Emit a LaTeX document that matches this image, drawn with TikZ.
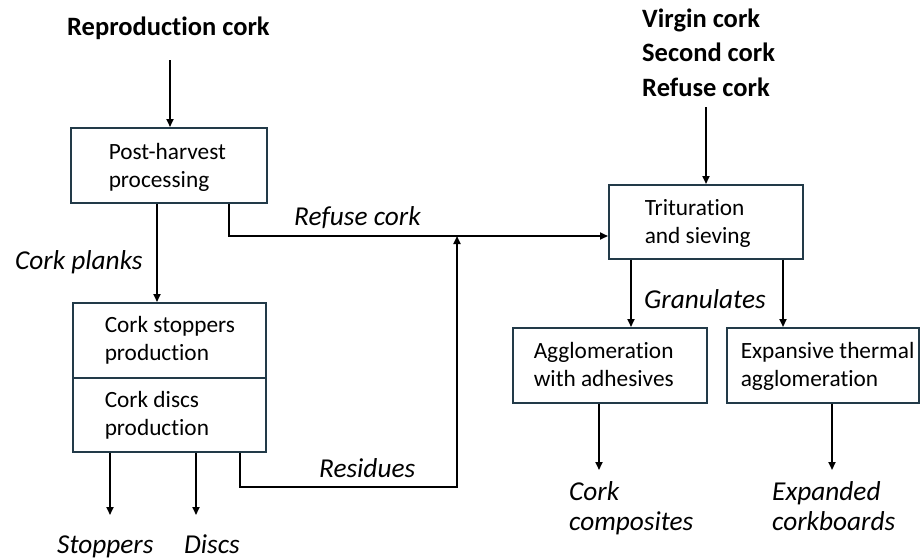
\documentclass[tikz,border=0pt]{standalone}
\usepackage{fontspec}
\setmainfont{Carlito}[Ligatures={NoCommon}]
\usetikzlibrary{arrows.meta,calc}
\definecolor{boxc}{RGB}{34,58,72}
\newcommand\boxtext[3]{\raisebox{#2}[\height][\depth]{\makebox[#1][l]{\begin{tabular}{@{}l@{}}#3\end{tabular}}}}
\begin{document}
\begin{tikzpicture}[x=1pt,y=-1pt,
  box/.style={draw=boxc, line width=1.5pt, rectangle, inner sep=0pt, anchor=north west, font=\fontsize{23.3}{28}\selectfont},
  arr/.style={line width=1.9pt, -{Triangle[length=8pt,width=7pt]}},
  lab/.style={inner sep=0pt, anchor=base west, font=\fontsize{27.3}{30}\selectfont\itshape},
  ttl/.style={inner sep=0pt, anchor=base west, font=\fontsize{26.5}{34.5}\selectfont\bfseries}]
\useasboundingbox (0,0) rectangle (921,558);

% boxes
\node[box, minimum width=196pt, minimum height=75pt] (ph) at (70,127) {\boxtext{120pt}{-3pt}{Post-harvest\\processing}};
\node[box, minimum width=193pt, minimum height=75pt] (cs) at (72,302) {\boxtext{129pt}{-0.5pt}{Cork stoppers\\production}};
\node[box, minimum width=193pt, minimum height=74pt] (cd) at (72,377) {\boxtext{129pt}{-1pt}{Cork discs\\production}};
\node[box, minimum width=194pt, minimum height=74pt] (tr) at (608,184) {\boxtext{122pt}{-2.5pt}{Trituration\\and sieving}};
\node[box, minimum width=194pt, minimum height=75pt] (ag) at (512,327) {\boxtext{152pt}{-2pt}{Agglomeration\\with adhesives}};
\node[box, minimum width=192pt, minimum height=75pt] (ex) at (726,327) {\boxtext{164pt}{-2pt}{Expansive thermal\\agglomeration}};

% titles and labels
\node[ttl] (rc) at (67,35) {Reproduction cork};
\node[ttl] (vc) at (642,27) {\begin{tabular}[t]{@{}l@{}}Virgin cork\\Second cork\\Refuse cork\end{tabular}};
\node[lab] (cpl) at (15,269) {Cork planks};
\node[lab] (rfl) at (294,225) {Refuse cork};
\node[lab] (grl) at (644,308) {Granulates};
\node[lab] (rsl) at (319,477) {Residues};
\node[lab] (stl) at (57,553) {Stoppers};
\node[lab] (dil) at (184,553) {Discs};
\node[lab] (ccl) at (569,500) {\begin{tabular}[t]{@{}l@{}}Cork\\composites\end{tabular}};
\node[lab] (ecl) at (772,500) {\begin{tabular}[t]{@{}l@{}}Expanded\\corkboards\end{tabular}};

% helper coordinates
\coordinate (xRc) at (170,60);
\coordinate (xPl) at (157,0);
\coordinate (xRf) at (229,0);
\coordinate (j) at (457,236);
\coordinate (jr) at (457,487);
\coordinate (xRs) at (240,0);
\coordinate (stA) at (110,515);
\coordinate (diA) at (196,515);
\coordinate (vcA) at (706,107);
\coordinate (xG1) at (631,0);
\coordinate (xG2) at (783,0);
\coordinate (ccA) at (599,470);
\coordinate (ecA) at (832,470);

% connectors
\draw[arr] (xRc) -- (xRc |- ph.north);
\draw[arr] (xPl |- ph.south) -- (xPl |- cs.north);
\draw[arr] (xRf |- ph.south) |- (tr.west |- j);
\draw[arr] (xRs |- cd.south) |- (jr) -- (j);
\draw[arr] (stA |- cd.south) -- (stA);
\draw[arr] (diA |- cd.south) -- (diA);
\draw[arr] (vcA) -- (vcA |- tr.north);
\draw[arr] (xG1 |- tr.south) -- (xG1 |- ag.north);
\draw[arr] (xG2 |- tr.south) -- (xG2 |- ex.north);
\draw[arr] (ccA |- ag.south) -- (ccA);
\draw[arr] (ecA |- ex.south) -- (ecA);
\end{tikzpicture}
\end{document}
